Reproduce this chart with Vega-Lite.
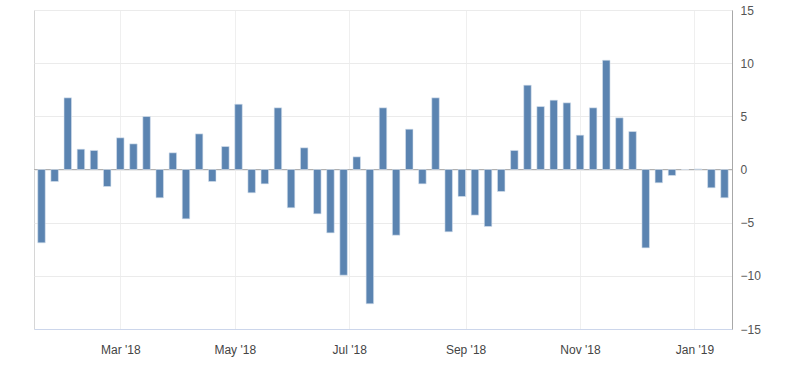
{
  "$schema": "https://vega.github.io/schema/vega-lite/v6.json",
  "width": 698,
  "height": 319,
  "autosize": {"type": "none"},
  "padding": {"left": 34, "top": 10, "right": 68, "bottom": 36},
  "background": "#ffffff",
  "config": {
    "view": {"stroke": "#d6d6d6", "strokeWidth": 1},
    "font": "Liberation Sans"
  },
  "data": {
    "values": [
      {"date": "2018-01-18", "value": -6.9},
      {"date": "2018-01-25", "value": -1.13},
      {"date": "2018-02-01", "value": 6.74},
      {"date": "2018-02-08", "value": 1.91},
      {"date": "2018-02-15", "value": 1.79},
      {"date": "2018-02-22", "value": -1.6},
      {"date": "2018-03-01", "value": 2.98},
      {"date": "2018-03-08", "value": 2.41},
      {"date": "2018-03-15", "value": 4.98},
      {"date": "2018-03-22", "value": -2.66},
      {"date": "2018-03-29", "value": 1.57},
      {"date": "2018-04-05", "value": -4.64},
      {"date": "2018-04-12", "value": 3.35},
      {"date": "2018-04-19", "value": -1.13},
      {"date": "2018-04-26", "value": 2.16},
      {"date": "2018-05-03", "value": 6.14},
      {"date": "2018-05-10", "value": -2.19},
      {"date": "2018-05-17", "value": -1.35},
      {"date": "2018-05-24", "value": 5.8},
      {"date": "2018-05-31", "value": -3.6},
      {"date": "2018-06-07", "value": 2.04},
      {"date": "2018-06-14", "value": -4.17},
      {"date": "2018-06-21", "value": -5.96},
      {"date": "2018-06-28", "value": -9.94},
      {"date": "2018-07-05", "value": 1.19},
      {"date": "2018-07-12", "value": -12.63},
      {"date": "2018-07-19", "value": 5.8},
      {"date": "2018-07-26", "value": -6.18},
      {"date": "2018-08-02", "value": 3.79},
      {"date": "2018-08-09", "value": -1.35},
      {"date": "2018-08-16", "value": 6.74},
      {"date": "2018-08-23", "value": -5.86},
      {"date": "2018-08-30", "value": -2.54},
      {"date": "2018-09-06", "value": -4.29},
      {"date": "2018-09-13", "value": -5.36},
      {"date": "2018-09-20", "value": -2.07},
      {"date": "2018-09-27", "value": 1.79},
      {"date": "2018-10-04", "value": 7.93},
      {"date": "2018-10-11", "value": 5.92},
      {"date": "2018-10-18", "value": 6.52},
      {"date": "2018-10-25", "value": 6.27},
      {"date": "2018-11-01", "value": 3.23},
      {"date": "2018-11-08", "value": 5.8},
      {"date": "2018-11-15", "value": 10.28},
      {"date": "2018-11-22", "value": 4.86},
      {"date": "2018-11-29", "value": 3.57},
      {"date": "2018-12-06", "value": -7.37},
      {"date": "2018-12-13", "value": -1.25},
      {"date": "2018-12-20", "value": -0.56},
      {"date": "2018-12-27", "value": 0},
      {"date": "2019-01-03", "value": 0.05},
      {"date": "2019-01-10", "value": -1.72},
      {"date": "2019-01-17", "value": -2.66}
    ]
  },
  "encoding": {
    "x": {
      "field": "date",
      "type": "temporal",
      "scale": {"type": "utc", "padding": 0, "domain": [{"year": 2018, "month": 1, "date": 14, "utc": true}, {"year": 2019, "month": 1, "date": 21, "utc": true}]},
      "axis": {
        "title": null,
        "values": [
          {"year": 2018, "month": 3, "date": 1, "utc": true},
          {"year": 2018, "month": 5, "date": 1, "utc": true},
          {"year": 2018, "month": 7, "date": 1, "utc": true},
          {"year": 2018, "month": 9, "date": 1, "utc": true},
          {"year": 2018, "month": 11, "date": 1, "utc": true},
          {"year": 2019, "month": 1, "date": 1, "utc": true}
        ],
        "labelExpr": "utcFormat(datum.value, \"%b '%y\")",
        "grid": true,
        "gridColor": "#efefef",
        "ticks": false,
        "domainColor": "#ccd6eb",
        "labelPadding": 15,
        "labelFontSize": 12,
        "labelColor": "#444444"
      }
    }
  },
  "layer": [
    {
      "mark": {"type": "rule", "color": "#b0b0b0", "strokeWidth": 1},
      "encoding": {"y": {"datum": 0, "type": "quantitative"}, "x": null}
    },
    {
      "mark": {"type": "bar", "size": 7.5, "color": "#5b84b1", "stroke": "#d9e2ee", "strokeWidth": 0.6},
      "encoding": {
        "y": {
          "field": "value",
          "type": "quantitative",
          "scale": {"domain": [-15, 15], "nice": false, "zero": true},
          "axis": {
            "orient": "right",
            "title": null,
            "values": [-15, -10, -5, 0, 5, 10, 15],
            "grid": true,
            "gridColor": "#ebebeb",
            "ticks": false,
            "domainColor": "#a8a8a8",
            "labelPadding": 8,
            "labelFontSize": 12,
            "labelColor": "#555555"
          }
        }
      }
    }
  ]
}
